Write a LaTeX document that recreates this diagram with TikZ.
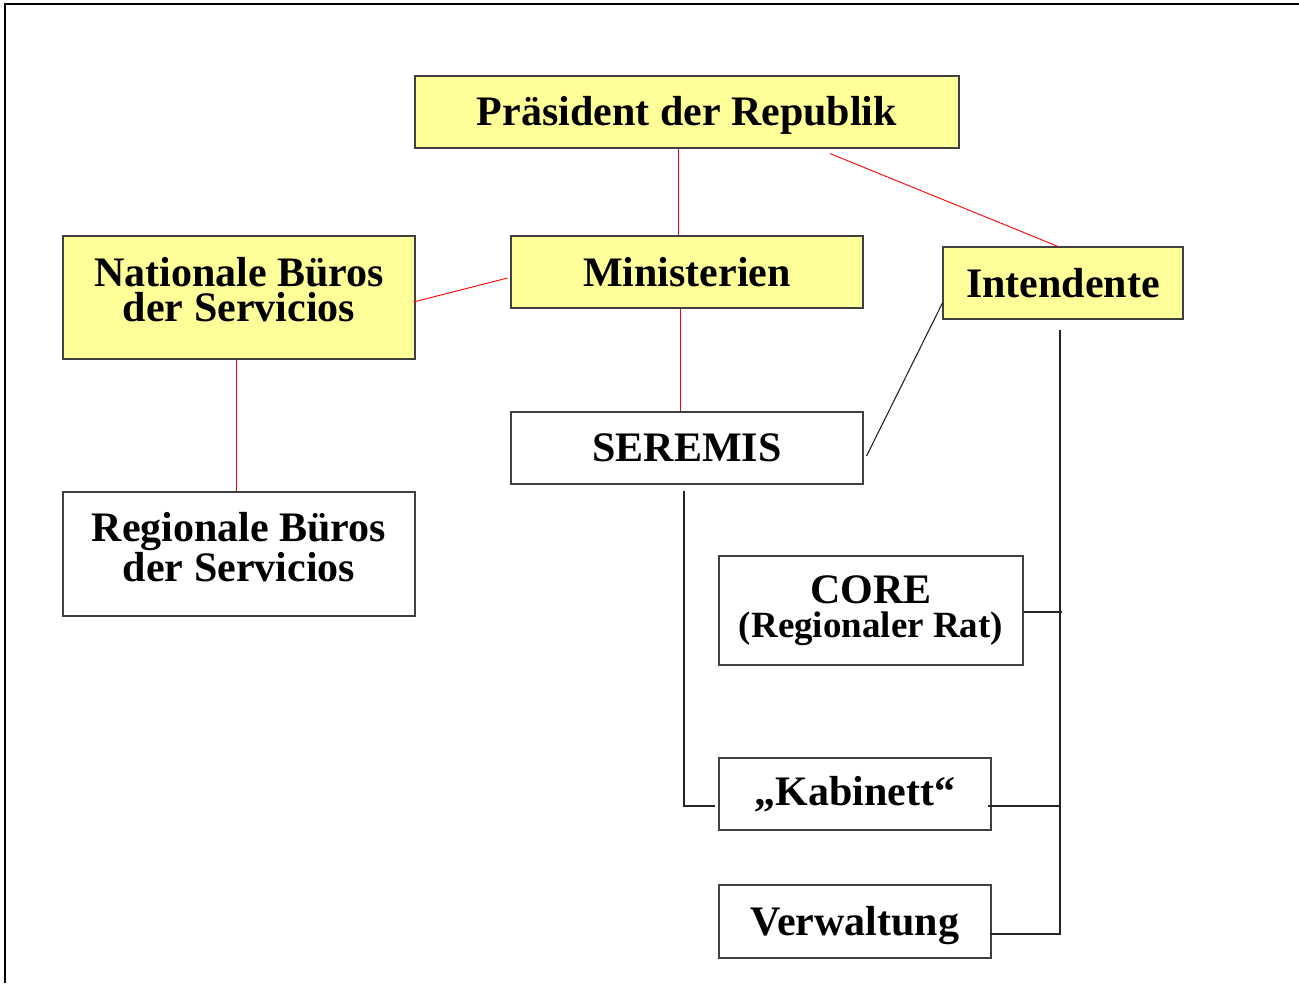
\documentclass[tikz,border=0pt]{standalone}
\usepackage{fontspec}
\setmainfont{Liberation Serif}
\definecolor{boxyellow}{HTML}{FFFF99}
\definecolor{boxline}{HTML}{404040}
\tikzset{
  box/.style={draw=boxline, line width=1.1pt, align=center, inner sep=0pt,
    font=\bfseries\fontsize{42}{34}\selectfont},
  ybox/.style={box, fill=boxyellow},
  wbox/.style={box, fill=white},
  boxtext/.style={align=center, inner sep=0pt, font=\bfseries\fontsize{42}{34.5}\selectfont},
  redline/.style={draw=red, line width=0.9pt},
  blackline/.style={draw=black!85, line width=1.1pt},
}
\begin{document}
\begin{tikzpicture}[x=1pt,y=-1pt]
\useasboundingbox (0,0) rectangle (1299,983);
\fill[white] (0,0) rectangle (1299,983);
\draw[line width=2.4pt] (5,983) -- (5,4) -- (1299,4);

\node[ybox, minimum width=544pt, minimum height=72pt, text height=35pt, text depth=9pt] (pres) at (687,112) {Präsident der Republik};
\node[ybox, minimum width=352pt, minimum height=123pt] (nat) at (239,297.5) {};
\node[boxtext] (natt) at ([yshift=8pt]nat.center) {Nationale Büros\\der Servicios};
\node[ybox, minimum width=352pt, minimum height=72pt] (min) at (687,272) {Ministerien};
\node[ybox, minimum width=240pt, minimum height=72pt] (int) at (1063,283) {Intendente};
\node[wbox, minimum width=352pt, minimum height=72pt] (ser) at (687,448) {SEREMIS};
\node[wbox, minimum width=352pt, minimum height=124pt] (reg) at (239,554) {};
\node[boxtext] (regt) at ([yshift=7pt]reg.center) {Regionale Büros\\der Servicios};
\node[wbox, minimum width=304pt, minimum height=109pt] (core) at (871,610.5) {CORE\\{\fontsize{37}{35}\selectfont (Regionaler Rat)}};
\node[wbox, minimum width=272pt, minimum height=72pt] (kab) at (855,794) {„Kabinett“};
\node[wbox, minimum width=272pt, minimum height=73pt, text height=37pt, text depth=9pt] (ver) at (855,921.5) {Verwaltung};

\coordinate (trunk) at (1060,330);

% red connectors
\draw[redline] ([xshift=-9pt]pres.south) -- ([xshift=-9pt]min.north);
\draw[redline] ([xshift=143pt,yshift=-5pt]pres.south) -- ([xshift=-5pt]int.north);
\draw[redline] ([xshift=-2pt,yshift=-4.5pt]nat.east) -- ([xshift=-3pt,yshift=-6pt]min.west);
\draw[redline] ([xshift=-3pt]nat.south) -- ([xshift=-3pt]reg.north);
\draw[redline] ([xshift=-7pt]min.south) -- ([xshift=-7pt]ser.north);

% black connectors
\draw[blackline] ([xshift=3pt,yshift=-8pt]ser.east) -- ([yshift=-20pt]int.west);
\draw[blackline] ([xshift=-3pt,yshift=-6pt]ser.south) |- ([xshift=-3pt,yshift=-12pt]kab.west);
\draw[blackline] (trunk) |- ([xshift=-2pt,yshift=-12.5pt]ver.east);
\draw[blackline] ([yshift=-1.5pt]core.east) -- ([yshift=-1.5pt]core.east -| trunk) -- ++(2pt,0);
\draw[blackline] ([xshift=-4pt,yshift=-12pt]kab.east) -- ([yshift=-12pt]kab.east -| trunk);
\end{tikzpicture}
\end{document}
